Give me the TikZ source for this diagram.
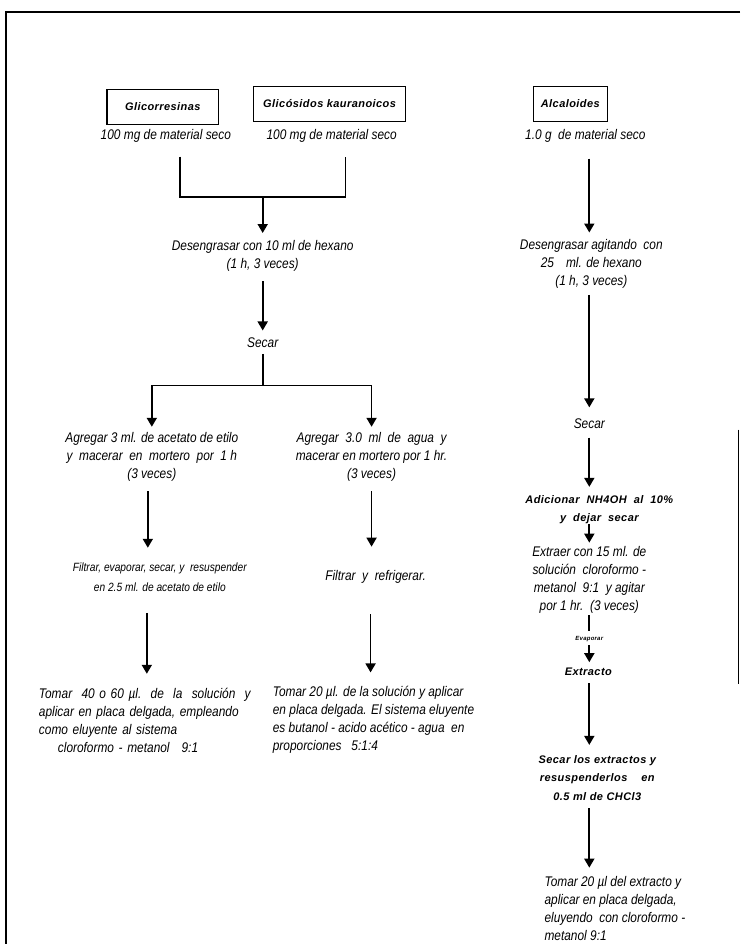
\documentclass[tikz,border=0pt]{standalone}
\usepackage{fontspec}
\setmainfont{Liberation Sans}
\newfontfamily\narrowfont{Liberation Sans}[FakeStretch=0.85]
\newfontfamily\headfont{Liberation Sans}[LetterSpace=4]
\usetikzlibrary{arrows.meta}

\begin{document}
\begin{tikzpicture}[x=1pt,y=-1pt,>={Triangle[width=10pt,length=9pt]},
  txt/.style={inner sep=0pt,align=center,font=\narrowfont\itshape\fontsize{14}{18}\selectfont},
  txtsmall/.style={txt,font=\narrowfont\itshape\fontsize{12}{20}\selectfont},
  wide/.style={inner sep=0pt,align=center,font=\headfont\itshape\bfseries\fontsize{11}{18.5}\selectfont},
  head/.style={wide,draw,line width=1.4pt,minimum height=35pt},
  ln/.style={line width=1.8pt},
  arr/.style={ln,->}]
  \fill[white] (0,0) rectangle (741,945);
  % frame of the page
  \draw[line width=2.2pt] (741,12) -- (6,12) -- (6,945);
  \draw[line width=1.2pt] (739,430) -- (739,685);

  % headings
  \node[head,minimum width=112pt] (res) at (163,107) {Glicorresinas};
  \node[head,minimum width=152pt] (kau) at (330,104) {Glicósidos kauranoicos};
  \node[head,minimum width=74pt] (alc) at (571,104) {Alcaloides};
  \node[txt] (resMat) at (166,136) {100 mg de material seco};
  \node[txt] (kauMat) at (332,136) {100 mg de material seco};
  \node[txt] (alcMat) at (586,136) {1.0 g\ \ de material seco};

  % glicorresinas and glicosidos
  \coordinate (join) at (263,197);
  \node[txt] (hexL) at (263,256) {Desengrasar con 10 ml de hexano\\(1 h, 3 veces)};
  \node[txt] (secL) at (263,343) {Secar};
  \coordinate (split) at (263,386);
  \node[txt] (acetL) at (152,457) {Agregar 3 ml. de acetato de etilo\\y\ \ macerar\ \ en\ \ mortero\ \ por\ \ 1 h\\(3 veces)};
  \node[txt] (aguaM) at (372,457) {Agregar\ \ 3.0\ \ ml\ \ de\ \ agua\ \ y\\macerar en mortero por 1 hr.\\(3 veces)};
  \node[txtsmall] (filL) at (160,578) {Filtrar, evaporar, secar, y\ \ resuspender\\en 2.5 ml. de acetato de etilo};
  \node[txt] (filM) at (376,578) {Filtrar\ \ y\ \ refrigerar.};
  \node[txt,text width=203pt,align=left] (tomL) at (140.5,721)
    {\makebox[203pt][s]{Tomar\ \ 40 o 60 µl.\ \ de\ \ la\ \ solución\ \ y}\\
     \makebox[203pt][s]{aplicar en placa delgada, empleando}\\
     \makebox[203pt][s]{como eluyente al sistema}\\
     \hspace*{19pt}cloroformo - metanol\hspace{12pt}9:1};
  \node[txt,align=left,anchor=west] (tomM) at (273,721)
    {Tomar 20 µl. de la solución y aplicar\\en placa delgada. El sistema eluyente\\es butanol - acido acético - agua\ \ en\\proporciones\ \ \ 5:1:4};

  % alcaloides
  \node[txt] (hexR) at (592,264.5) {Desengrasar agitando\ \ con\\25\hspace{12pt}ml. de hexano\\(1 h, 3 veces)};
  \node[txt] (secR) at (590,424) {Secar};
  \node[wide] (nhR) at (600,510) {Adicionar\ \ NH4OH\ \ al\ \ 10\%\\y\ \ dejar\ \ secar};
  \node[txt] (extR) at (590,581) {Extraer con 15 ml. de\\solución\ \ cloroformo -\\metanol\ \ 9:1\ \ y agitar\\por 1 hr.\ \ (3 veces)};
  \node[wide,font=\headfont\itshape\bfseries\fontsize{6}{7}\selectfont] (evap) at (590,640) {Evaporar};
  \node[wide] (xtoR) at (589,673) {Extracto};
  \node[wide] (secLosR) at (598,778.5) {Secar los extractos y\\resuspenderlos\ \ \ \ en\\0.5 ml de CHCl3};
  \node[txt,align=left,anchor=west] (tomR) at (545,910)
    {Tomar 20 µl del extracto y\\aplicar en placa delgada,\\eluyendo\ \ con cloroformo -\\metanol 9:1};

  % connectors
  \draw[ln] ([xshift=14pt,yshift=-14pt]resMat.south) |- (join) -| ([xshift=14pt,yshift=-14pt]kauMat.south);
  \draw[arr,shorten >=7pt] (join) -- (join |- hexL.north);
  \draw[arr,shorten <=10pt,shorten >=7pt] (hexL.south -| secL) -- (secL.north);
  \draw[ln,shorten <=6pt] (secL.south) -- (split);
  \draw[arr,shorten >=5pt] (split) -| (acetL.north);
  \draw[arr,shorten >=5pt] (split) -| (aguaM.north);
  \draw[arr,shorten <=10pt,shorten >=15pt] ([xshift=-4pt]acetL.south) -- ([xshift=-4pt]acetL.south |- filL.north);
  \draw[arr,shorten <=21pt,shorten >=14pt] ([xshift=-13pt]filL.south) -- ([xshift=-13pt]filL.south |- tomL.north);
  \draw[arr,shorten <=10pt,shorten >=24pt] (aguaM.south) -- (aguaM.south |- filM.north);
  \draw[arr,shorten <=30pt,shorten >=14pt] ([xshift=-5pt]filM.south) -- ([xshift=-5pt]filM.south |- tomM.north);

  \draw[arr,shorten <=16pt,shorten >=7pt] ([xshift=4pt]alcMat.south) -- ([xshift=4pt]alcMat.south |- hexR.north);
  \draw[arr,shorten <=6pt,shorten >=11pt] (hexR.south -| secR) -- (secR.north);
  \draw[arr,shorten <=9pt,shorten >=8pt] (secR.south) -- (secR.south |- nhR.north);
  \draw[arr,shorten >=4pt] (nhR.south -| extR) -- (extR.north);
  \draw[ln,shorten <=1pt,shorten >=5pt] (extR.south) -- (extR.south |- evap.north);
  \draw[arr,shorten <=3pt,shorten >=6pt] (evap.south -| extR) -- (extR.south |- xtoR.north);
  \draw[arr,shorten <=7pt,shorten >=10pt] (xtoR.south -| extR) -- (extR.south |- secLosR.north);
  \draw[arr,shorten <=8pt,shorten >=9pt] ([xshift=-8pt]secLosR.south) -- ([xshift=-8pt]secLosR.south |- tomR.north);
\end{tikzpicture}
\end{document}
